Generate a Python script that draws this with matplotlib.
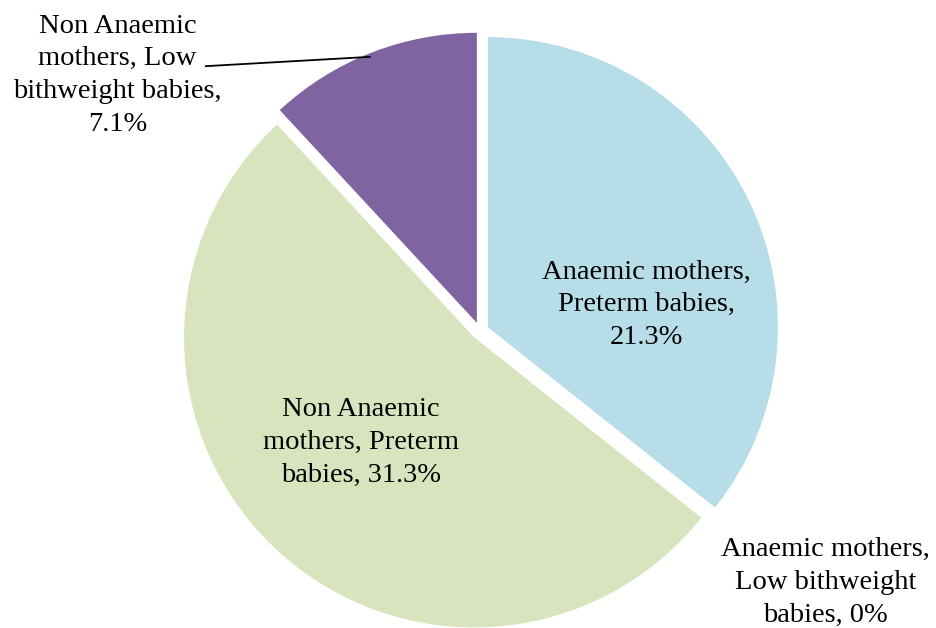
import numpy as np
import matplotlib
matplotlib.use("Agg")
import matplotlib.pyplot as plt

# Дані діаграми
labels = ["Anaemic mothers,\nPreterm babies,\n21.3%",
          "Anaemic mothers,\nLow bithweight\nbabies, 0%",
          "Non Anaemic\nmothers, Preterm\nbabies, 31.3%",
          "Non Anaemic\nmothers, Low\nbithweight babies,\n7.1%"]
values = [21.3, 0.0, 31.3, 7.1]
colors = ["#B7DDE8", "#B9CDE5", "#D7E4BD", "#8064A2"]

# Положення підписів (в координатах осей даних)
label_pos = [(0.572, 0.09), (1.19, -0.867), (-0.41, -0.384), (-1.25, 0.882)]

plt.rcParams['font.family'] = ['Liberation Serif', 'DejaVu Serif']

fig = plt.figure(figsize=(9.36, 6.28), dpi=100)
ax = fig.add_axes([0, 0, 1, 1])

ax.pie(values, colors=colors, startangle=90, counterclock=False,
       explode=[0.03] * len(values), radius=1.0,
       wedgeprops=dict(linewidth=0))

for text, (x, y) in zip(labels, label_pos):
    ax.text(x, y, text, ha='center', va='center', fontsize=20.5,
            linespacing=1.4)

# Лінія-виноска для фіолетового сектора
ax.plot([-0.945, -0.38], [0.913, 0.945], color='black', linewidth=1.3)

ax.set_xlim(-1.655, 1.572)
ax.set_ylim(-1.024, 1.141)
ax.set_aspect('equal')
ax.axis('off')

fig.savefig("out.png", dpi=100)
